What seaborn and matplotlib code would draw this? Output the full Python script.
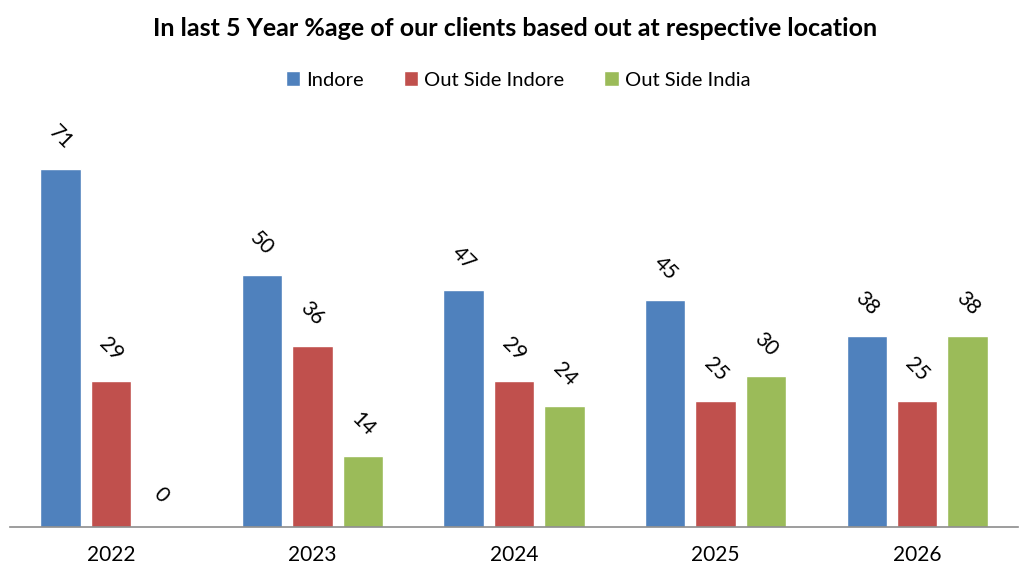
import pandas as pd
import matplotlib.pyplot as plt
import seaborn as sns

# Data
years = ["2022", "2023", "2024", "2025", "2026"]
indore = [71, 50, 47, 45, 38]
outside_indore = [29, 36, 29, 25, 25]
outside_india = [0, 14, 24, 30, 38]
series = ["Indore", "Out Side Indore", "Out Side India"]
colors = ["#4F81BD", "#C0504D", "#9BBB59"]

df = pd.DataFrame({
    "Year": years * 3,
    "Value": indore + outside_indore + outside_india,
    "Series": [s for s in series for _ in years],
})

sns.set_style("white")
plt.rcParams['font.family'] = ['Lato', 'DejaVu Sans']
plt.rcParams['text.color'] = 'black'
plt.rcParams['xtick.color'] = 'black'

fig = plt.figure(figsize=(10.24, 5.73), dpi=100)
ax = fig.add_axes([10 / 1024, 46 / 573, 1008 / 1024, 403 / 573])

sns.barplot(
    data=df, x="Year", y="Value", hue="Series", saturation=1,
    palette=colors, width=0.75, gap=0.2, ax=ax, legend=True,
)

# rotated value labels above bars
for cont in ax.containers:
    for bar in cont:
        h = bar.get_height()
        ax.annotate(f"{h:.0f}", (bar.get_x() + bar.get_width() / 2, h),
                    xytext=(0, 23), textcoords="offset points",
                    ha="center", va="center", rotation=-45, fontsize=15)

ax.set_xlim(-0.5, 4.5)
ax.set_ylim(0, 80)
ax.set_xlabel("")
ax.set_ylabel("")
ax.set_yticks([])
ax.tick_params(axis="x", length=0, labelsize=15, pad=13)
for s in ["top", "right", "left"]:
    ax.spines[s].set_visible(False)
ax.spines["bottom"].set_color("#8C8C8C")
ax.spines["bottom"].set_linewidth(1.2)

leg = ax.legend(loc="center", bbox_to_anchor=(508 / 1008, (573 - 80 - 46) / 403),
                ncol=3, frameon=False, fontsize=14.5, handlelength=0.7,
                handleheight=0.7, handletextpad=0.3, columnspacing=2.0)

fig.suptitle("In last 5 Year %age of our clients based out at respective location",
             x=515 / 1024, y=1 - 28 / 573, va="center", fontsize=18, fontweight="bold")

fig.savefig("out.png", dpi=100)
